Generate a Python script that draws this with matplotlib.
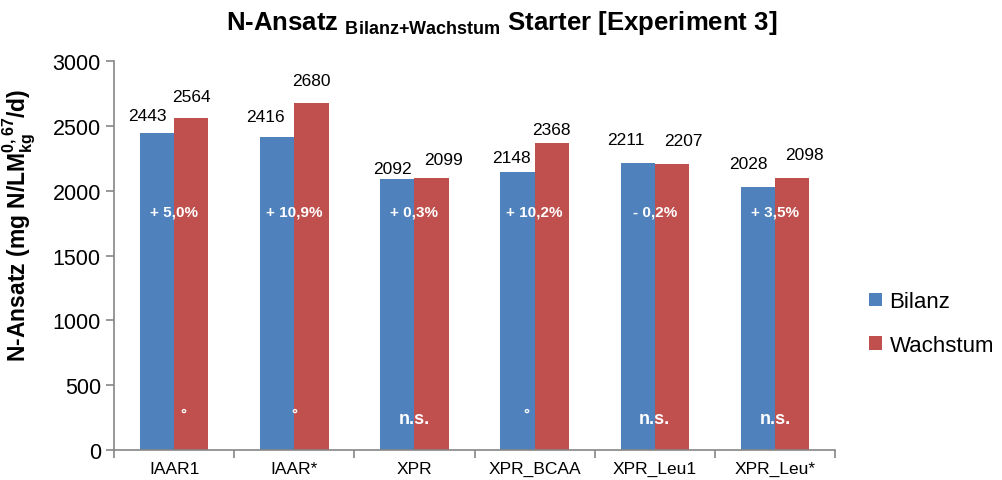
import numpy as np
import matplotlib.pyplot as plt

plt.rcParams['font.family'] = ['Liberation Sans', 'DejaVu Sans']
plt.rcParams['mathtext.fontset'] = 'custom'
plt.rcParams['mathtext.rm'] = 'Liberation Sans:bold'
plt.rcParams['mathtext.it'] = 'Liberation Sans:bold'
plt.rcParams['mathtext.bf'] = 'Liberation Sans:bold'

# Daten
gruppen = ['IAAR1', 'IAAR*', 'XPR', 'XPR_BCAA', 'XPR_Leu1', 'XPR_Leu*']
bilanz = [2443, 2416, 2092, 2148, 2211, 2028]
wachstum = [2564, 2680, 2099, 2368, 2207, 2098]
differenz = ['+ 5,0%', '+ 10,9%', '+ 0,3%', '+ 10,2%', '- 0,2%', '+ 3,5%']
signifikanz = ['°', '°', 'n.s.', '°', 'n.s.', 'n.s.']

# Lage der Wertebeschriftungen (Pixel-Versatz wie im Original verschoben)
versatz_b = [(-10, 10), (-12, 13), (-5, 3), (-6, 7), (-12, 16), (-9, 16)]
versatz_w = [(0, 14), (0, 15), (12, 11), (0, 6), (11, 16), (12, 16)]

blau, rot, grau = '#4F81BD', '#C0504D', '#868686'

fig = plt.figure(figsize=(10.03, 4.81), dpi=100)
ax = fig.add_axes([0.1137, 0.0624, 0.7188, 0.8086])

x = np.arange(len(gruppen))
w = 0.285
b1 = ax.bar(x - w/2, bilanz, w, color=blau, label='Bilanz')
b2 = ax.bar(x + w/2, wachstum, w, color=rot, label='Wachstum')

for bars, werte, vs in ((b1, bilanz, versatz_b), (b2, wachstum, versatz_w)):
    for r, v, (vx, vy) in zip(bars, werte, vs):
        ax.annotate(str(v), (r.get_x() + r.get_width()/2, v),
                    xytext=(vx*0.72, vy*0.72), textcoords='offset points',
                    ha='center', va='bottom', fontsize=12.5)

for i, t in enumerate(differenz):
    ax.text(x[i], 1840, t, ha='center', va='center', color='white',
            fontsize=11, fontweight='bold')

dx = [0.08, 0.0, 0.0, -0.07, 0.0, 0.0]
for i, s in enumerate(signifikanz):
    if s == 'n.s.':
        ax.text(x[i], 240, s, ha='center', va='center', color='white',
                fontsize=13, fontweight='bold')
    else:
        ax.text(x[i] + dx[i], 280, s, ha='center', va='center', color='white',
                fontsize=11, fontweight='bold')

ax.set_xlim(-0.5, len(gruppen) - 0.5)
ax.set_ylim(0, 3000)
ax.set_yticks(np.arange(0, 3001, 500))
ax.tick_params(axis='y', labelsize=15.5, color=grau, length=6, width=1.2)
ax.set_xticks(x)
ax.set_xticklabels(gruppen, fontsize=12.5)
ax.set_xticks(np.arange(-0.5, len(gruppen)), minor=True)
ax.tick_params(axis='x', which='major', length=0, pad=8)
ax.tick_params(axis='x', which='minor', length=6, color=grau, width=1.2)
for s in ('top', 'right'):
    ax.spines[s].set_visible(False)
for s in ('left', 'bottom'):
    ax.spines[s].set_color(grau)
    ax.spines[s].set_linewidth(1.2)

ax.set_ylabel(r'N-Ansatz (mg N/LM$_{\mathrm{kg}}^{\mathrm{0,67}}$/d)',
              fontsize=16.5, fontweight='bold')
ax.yaxis.set_label_coords(-0.107, 0.58)

fig.text(0.5, 0.953,
         r'N-Ansatz $_{\mathrm{Bilanz{+}Wachstum}}$ Starter [Experiment 3]',
         ha='center', va='center', fontsize=18.5, fontweight='bold')

ax.legend(loc='center left', bbox_to_anchor=(1.02, 0.325), frameon=False,
          fontsize=16, handlelength=0.55, handleheight=0.55, handletextpad=0.35,
          labelspacing=1.0)

fig.savefig('out.png', dpi=100)
